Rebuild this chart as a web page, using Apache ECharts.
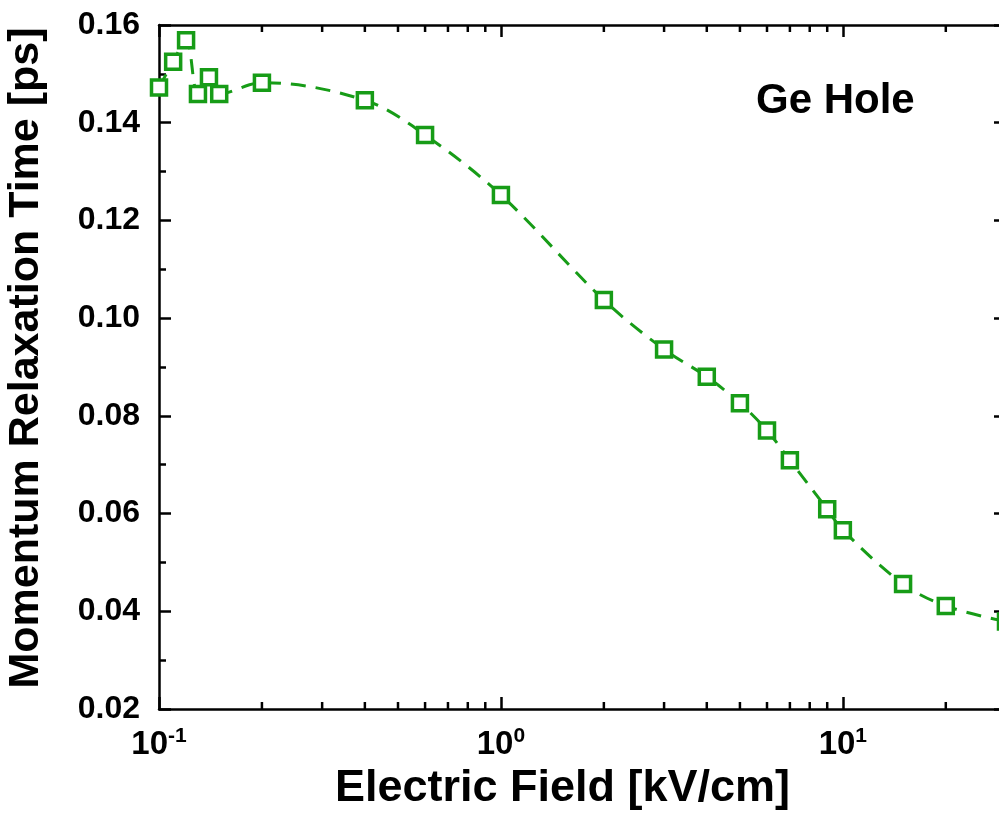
<!DOCTYPE html>
<html>
<head>
<meta charset="utf-8">
<script src="https://cdn.jsdelivr.net/npm/echarts@6/dist/echarts.min.js"></script>
<style>html,body{margin:0;padding:0;background:#fff;}#chart{width:999px;height:817px;}</style>
</head>
<body>
<div id="chart"></div>
<script>
// ---- data ----
const fieldKVcm = [0.1, 0.11, 0.12, 0.13, 0.14, 0.15, 0.2, 0.4, 0.6, 1, 2, 3, 4, 5, 6, 7, 9, 10, 15, 20, 30];
const tauPs = [0.1472, 0.1525, 0.1569, 0.1459, 0.1493, 0.1459, 0.1482, 0.1446, 0.1375, 0.1252, 0.1037, 0.0936, 0.0880, 0.0826, 0.0770, 0.0709, 0.0609, 0.0566, 0.0456, 0.0411, 0.0379];
const xRange = [0.1, 30];
const yRange = [0.02, 0.16];
const yStep = 0.02;
const xMajorDecades = [0.1, 1, 10];
const seriesName = 'Ge Hole';
const xTitle = 'Electric Field [kV/cm]';
const yTitle = 'Momentum Relaxation Time [ps]';

const minorX = [];
xMajorDecades.forEach(d => { for (let k = 2; k <= 9; k++) { const v = k * d; if (v < xRange[1] - 1e-9) minorX.push(v); } });

const green = '#179c17';
const font = 'Liberation Sans, Arial, sans-serif';
const axisLine = { show: true, lineStyle: { color: '#000', width: 2.5 } };

const chart = echarts.init(document.getElementById('chart'), null, { renderer: 'canvas' });
chart.setOption({
  animation: false,
  backgroundColor: '#fff',
  title: {
    text: seriesName, left: 751, top: 75,
    textStyle: { fontFamily: font, fontWeight: 'bold', fontSize: 42, color: '#000' }
  },
  grid: { left: 159, top: 25, right: -7, bottom: 108, containLabel: false, outerBoundsMode: 'none' },
  xAxis: [{
    type: 'log', logBase: 10, min: xRange[0], max: xRange[1],
    position: 'bottom',
    name: xTitle, nameLocation: 'middle', nameGap: 47,
    nameTextStyle: { fontFamily: font, fontWeight: 'bold', fontSize: 45, color: '#000', verticalAlign: 'top', padding: [0, 40, 0, 0] },
    axisLine: axisLine,
    axisTick: { show: true, inside: true, length: 12, lineStyle: { color: '#000', width: 2.5 } },
    splitLine: { show: false },
    axisLabel: {
      margin: 17,
      showMaxLabel: false,
      formatter: v => '{b|10}{s|' + Math.round(Math.log10(v)) + '}',
      rich: {
        b: { fontFamily: font, fontWeight: 'bold', fontSize: 33, color: '#000' },
        s: { fontFamily: font, fontWeight: 'bold', fontSize: 21, color: '#000', padding: [0, 0, 16, 0] }
      }
    }
  }, {
    type: 'log', logBase: 10, min: xRange[0], max: xRange[1],
    position: 'top',
    axisLine: axisLine,
    axisTick: { show: true, inside: true, length: 12, lineStyle: { color: '#000', width: 2.5 } },
    axisLabel: { show: false },
    splitLine: { show: false }
  }],
  yAxis: [{
    type: 'value', min: yRange[0], max: yRange[1], interval: yStep,
    position: 'left',
    name: yTitle, nameLocation: 'middle', nameGap: 111, nameRotate: 90,
    nameTextStyle: { fontFamily: font, fontWeight: 'bold', fontSize: 43, color: '#000', padding: [0, 0, 0, 18] },
    axisLine: axisLine,
    axisTick: { show: true, inside: true, length: 12, lineStyle: { color: '#000', width: 2.5 } },
    minorTick: { show: true, splitNumber: 2, length: 7, lineStyle: { color: '#000', width: 2.5 } },
    splitLine: { show: false },
    axisLabel: { margin: 19, formatter: v => v.toFixed(2), fontFamily: font, fontWeight: 'bold', fontSize: 32, color: '#000' }
  }, {
    type: 'value', min: yRange[0], max: yRange[1], interval: yStep,
    position: 'right',
    axisLine: axisLine,
    axisTick: { show: true, inside: true, length: 12, lineStyle: { color: '#000', width: 2.5 } },
    minorTick: { show: true, splitNumber: 2, length: 7, lineStyle: { color: '#000', width: 2.5 } },
    splitLine: { show: false },
    axisLabel: { show: false }
  }],
  series: [{
    name: seriesName,
    type: 'line',
    data: fieldKVcm.map((x, i) => [x, tauPs[i]]),
    smooth: 0.35,
    clip: false,
    lineStyle: { color: green, width: 3, type: [15, 10] },
    symbol: 'rect', symbolSize: 15,
    itemStyle: { color: '#fff', borderColor: green, borderWidth: 3.5 },
    z: 3
  }]
});

// minor log ticks on bottom and top axes, positioned through the chart's own scale
const tickEls = [];
minorX.forEach(v => {
  const b = chart.convertToPixel({ xAxisIndex: 0, yAxisIndex: 0 }, [v, yRange[0]]);
  const t = chart.convertToPixel({ xAxisIndex: 0, yAxisIndex: 0 }, [v, yRange[1]]);
  const st = { stroke: '#000', lineWidth: 2.5 };
  tickEls.push({ type: 'line', silent: true, z: 10, shape: { x1: b[0], y1: b[1], x2: b[0], y2: b[1] - 7 }, style: st });
  tickEls.push({ type: 'line', silent: true, z: 10, shape: { x1: t[0], y1: t[1], x2: t[0], y2: t[1] + 7 }, style: st });
});
chart.setOption({ graphic: tickEls });
</script>
</body>
</html>
